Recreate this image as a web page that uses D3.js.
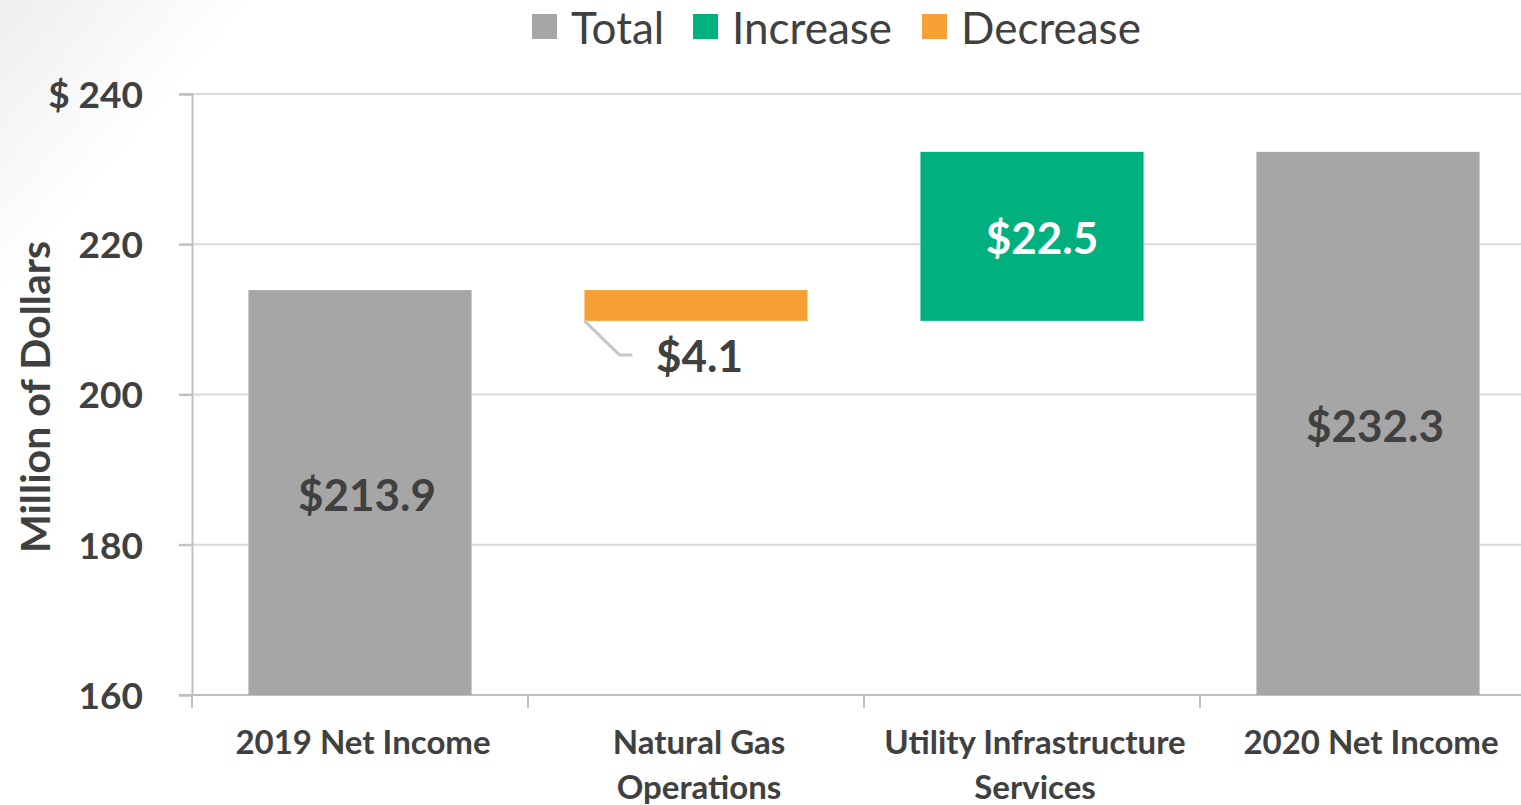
<!DOCTYPE html>
<html><head><meta charset="utf-8">
<script src="https://cdn.jsdelivr.net/npm/d3@7"></script>
<style>html,body{margin:0;padding:0;background:#fff;overflow:hidden}svg{display:block}text{font-family:Lato,"Open Sans",sans-serif}</style>
</head><body>
<svg id="chart" width="1521" height="805"></svg>
<script>
const categories = ["2019 Net Income", "Natural Gas Operations", "Utility Infrastructure Services", "2020 Net Income"];
const categoryLines = [["2019 Net Income"], ["Natural Gas", "Operations"], ["Utility Infrastructure", "Services"], ["2020 Net Income"]];
const kinds = ["Total", "Decrease", "Increase", "Total"];
const values = [213.9, -4.1, 22.5, 232.3];
const valueLabels = ["$213.9", "$4.1", "$22.5", "$232.3"];
const yTicks = [160, 180, 200, 220, 240];
const yTickLabels = ["160", "180", "200", "220", "$ 240"];
const legendItems = ["Total", "Increase", "Decrease"];
const colors = {Total: "#a6a6a6", Increase: "#00b07e", Decrease: "#f7a036"};

const svg = d3.select("#chart");
const defs = svg.append("defs");
const grad = defs.append("linearGradient").attr("id", "bg").attr("x1", "0").attr("y1", "0").attr("x2", "1").attr("y2", "0.45");
grad.append("stop").attr("offset", "0").attr("stop-color", "#eeeeee");
grad.append("stop").attr("offset", "0.14").attr("stop-color", "#ffffff");
grad.append("stop").attr("offset", "1").attr("stop-color", "#ffffff");
svg.append("rect").attr("width", 1521).attr("height", 805).attr("fill", "url(#bg)");

const plotLeft = 192, plotTop = 94, plotBottom = 695;
const x = d3.scaleBand().domain(categories).range([plotLeft, plotLeft + 336 * 4]).paddingInner(0.336).paddingOuter(0.168);
const y = d3.scaleLinear().domain([160, 240]).range([plotBottom, plotTop]);

// gridlines
svg.append("g").selectAll("line").data(yTicks.filter(t => t !== 160)).join("line")
  .attr("x1", plotLeft - 13).attr("x2", 1521).attr("y1", d => y(d)).attr("y2", d => y(d))
  .attr("stroke", "#d9d9d9").attr("stroke-width", 2);

// y axis
const yAxis = d3.axisLeft(y).tickValues(yTicks).tickFormat((d, i) => yTickLabels[i]).tickSize(13).tickPadding(36);
const ga = svg.append("g").attr("transform", `translate(${plotLeft},0)`).call(yAxis);
ga.select(".domain").attr("stroke", "#bfbfbf").attr("stroke-width", 2);
ga.selectAll(".tick line").attr("stroke", "#bfbfbf").attr("stroke-width", 2);
ga.selectAll(".tick text").attr("fill", "#404040").attr("font-size", 37).attr("font-weight", "bold").attr("dy", "0.36em").attr("font-family", "Lato, 'Open Sans', sans-serif");

// x axis line and ticks
svg.append("line").attr("x1", plotLeft - 13).attr("x2", 1521).attr("y1", plotBottom).attr("y2", plotBottom).attr("stroke", "#bfbfbf").attr("stroke-width", 2);
const boundaries = categories.map(c => x(c) - x.step() * x.paddingInner() / 2);
boundaries[0] = plotLeft;
svg.append("g").selectAll("line").data(boundaries).join("line")
  .attr("x1", d => d).attr("x2", d => d).attr("y1", plotBottom).attr("y2", plotBottom + 13)
  .attr("stroke", "#bfbfbf").attr("stroke-width", 2);

// waterfall bars
let running = 0;
const bars = values.map((v, i) => {
  let lo, hi;
  if (kinds[i] === "Total") { lo = 160; hi = v; running = v; }
  else { const start = running; running = start + v; lo = Math.min(start, running); hi = Math.max(start, running); }
  return {cat: categories[i], kind: kinds[i], lo, hi, label: valueLabels[i]};
});
svg.append("g").selectAll("rect").data(bars).join("rect")
  .attr("x", d => x(d.cat)).attr("width", x.bandwidth())
  .attr("y", d => y(d.hi)).attr("height", d => y(d.lo) - y(d.hi))
  .attr("fill", d => colors[d.kind]);

// value labels
const lab = svg.append("g");
bars.forEach(d => {
  const cx = x(d.cat) + x.bandwidth() / 2;
  if (d.kind === "Total") {
    lab.append("text").attr("x", cx + 7).attr("y", (y(d.lo) + y(d.hi)) / 2 + 3).attr("text-anchor", "middle")
      .attr("font-size", 44).attr("font-weight", "bold").attr("fill", "#404040").attr("dy", "0.35em").text(d.label);
  } else if (d.kind === "Increase") {
    lab.append("text").attr("x", cx + 10).attr("y", (y(d.lo) + y(d.hi)) / 2 + 2).attr("text-anchor", "middle")
      .attr("font-size", 44).attr("font-weight", "bold").attr("fill", "#ffffff").attr("dy", "0.35em").text(d.label);
  } else {
    const x0 = x(d.cat), yb = y(d.lo);
    lab.append("path").attr("d", `M${x0},${yb} L${x0 + 35},${yb + 34} L${x0 + 48},${yb + 34}`)
      .attr("fill", "none").attr("stroke", "#c8c8c8").attr("stroke-width", 3);
    lab.append("text").attr("x", x0 + 115).attr("y", yb + 36).attr("text-anchor", "middle")
      .attr("font-size", 44).attr("font-weight", "bold").attr("fill", "#404040").attr("dy", "0.35em").text(d.label);
  }
});

// category labels
categories.forEach((c, i) => {
  const cx = x(c) + x.bandwidth() / 2 + 3;
  const t = svg.append("text").attr("x", cx).attr("y", 754).attr("text-anchor", "middle")
    .attr("font-size", 33).attr("font-weight", "bold").attr("fill", "#404040");
  categoryLines[i].forEach((line, j) => t.append("tspan").attr("x", cx).attr("dy", j === 0 ? 0 : 45).text(line));
});

// y axis title
svg.append("text").attr("transform", "translate(50,397) rotate(-90)").attr("text-anchor", "middle")
  .attr("font-size", 41).attr("font-weight", "bold").attr("fill", "#404040").text("Million of Dollars");

// legend
const legX = [532, 693, 922];
const lg = svg.append("g");
legendItems.forEach((k, i) => {
  lg.append("rect").attr("x", legX[i]).attr("y", 14).attr("width", 25).attr("height", 25).attr("fill", colors[k]);
  lg.append("text").attr("x", legX[i] + 39).attr("y", 44).attr("font-size", 44).attr("fill", "#404040").text(k);
});
</script>
</body></html>
